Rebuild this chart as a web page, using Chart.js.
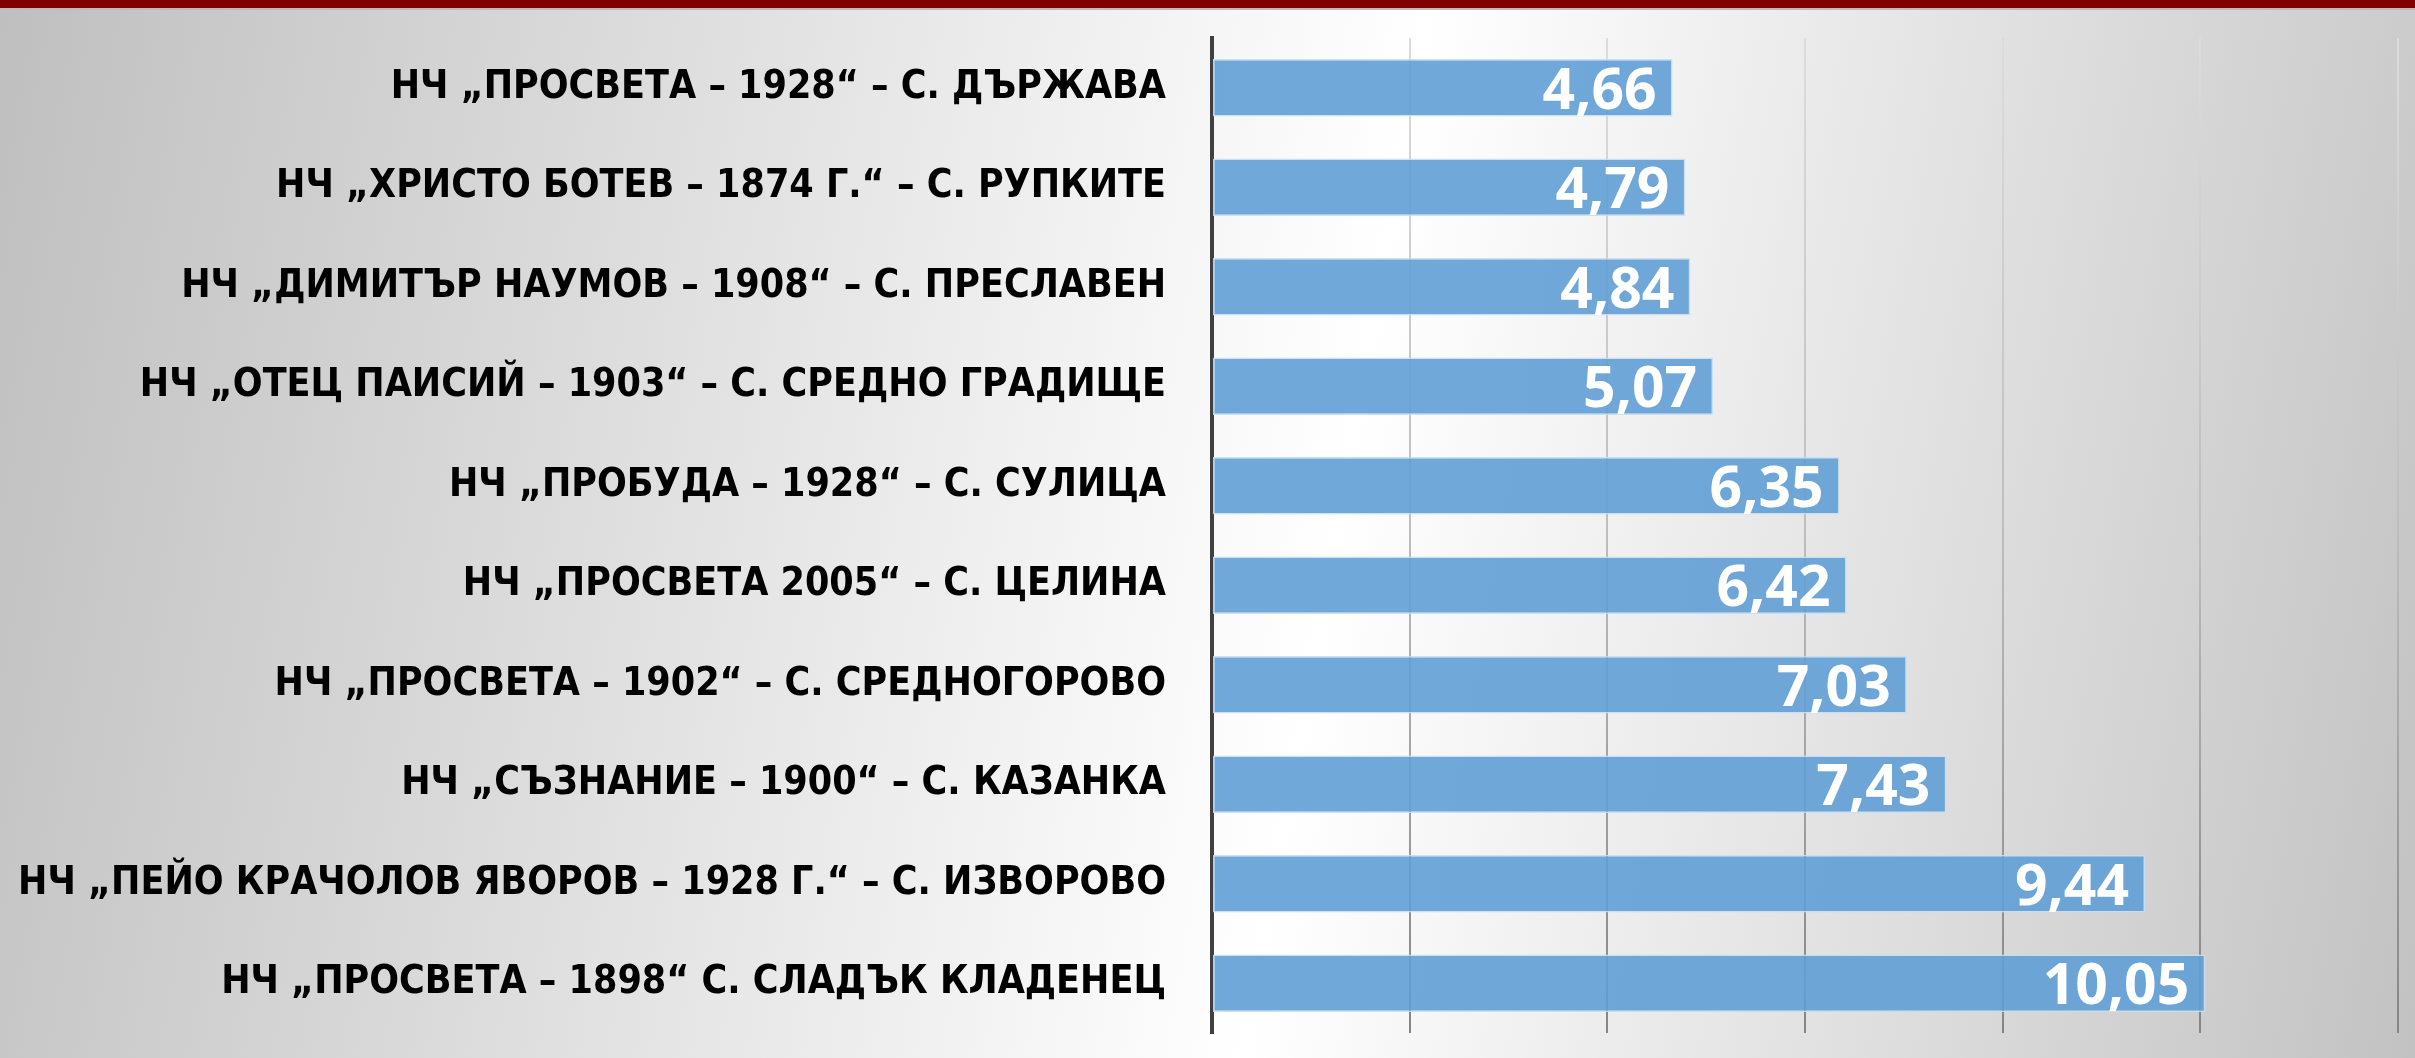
<!DOCTYPE html>
<html lang="bg">

<head>
    <meta charset="UTF-8">
    <title>Chart</title>
    <script src="https://cdn.jsdelivr.net/npm/chart.js@4.4.1/dist/chart.umd.min.js"></script>
    <style>
        html, body {
            margin: 0;
            padding: 0;
            width: 2415px;
            height: 1058px;
            overflow: hidden;
        }

        body {
            position: relative;
            background: linear-gradient(100deg, #bfbfbf 0%, #ffffff 55%, #c2c2c2 100%);
        }

        .topbar {
            position: absolute;
            left: 0;
            top: 0;
            width: 100%;
            height: 8px;
            background: #800000;
            border-bottom: 2px solid #bcbcbc;
        }

        .wrap {
            position: absolute;
            left: 0;
            top: 0;
            width: 2415px;
            height: 1058px;
        }
    </style>
</head>

<body>
    <div class="topbar"></div>
    <div class="wrap">
        <canvas id="chart"></canvas>
    </div>

    <script>
        const labels = [
            'НЧ „ПРОСВЕТА – 1928“ – С. ДЪРЖАВА',
            'НЧ „ХРИСТО БОТЕВ – 1874 Г.“ – С. РУПКИТЕ',
            'НЧ „ДИМИТЪР НАУМОВ – 1908“ – С. ПРЕСЛАВЕН',
            'НЧ „ОТЕЦ ПАИСИЙ – 1903“ – С. СРЕДНО ГРАДИЩЕ',
            'НЧ „ПРОБУДА – 1928“ – С. СУЛИЦА',
            'НЧ „ПРОСВЕТА 2005“ – С. ЦЕЛИНА',
            'НЧ „ПРОСВЕТА – 1902“ – С. СРЕДНОГОРОВО',
            'НЧ „СЪЗНАНИЕ – 1900“ – С. КАЗАНКА',
            'НЧ „ПЕЙО КРАЧОЛОВ ЯВОРОВ – 1928 Г.“ – С. ИЗВОРОВО',
            'НЧ „ПРОСВЕТА – 1898“ С. СЛАДЪК КЛАДЕНЕЦ'
        ]
        const values = [4.66, 4.79, 4.84, 5.07, 6.35, 6.42, 7.03, 7.43, 9.44, 10.05]
        const xMin = 0
        const xMax = 12
        const xStep = 2

        // numbers inside the end of each bar
        const valueLabels = {
            id: 'valueLabels',
            afterDatasetsDraw(chart) {
                const ctx = chart.ctx
                const meta = chart.getDatasetMeta(0)
                ctx.save()
                ctx.font = 'bold 57px "Open Sans"'
                ctx.fillStyle = '#ffffff'
                ctx.textAlign = 'right'
                ctx.textBaseline = 'alphabetic'
                meta.data.forEach((bar, i) => {
                    const txt = values[i].toFixed(2).replace('.', ',')
                    ctx.fillText(txt, bar.x - 16, bar.y + 21)
                })
                ctx.restore()
            }
        }

        function gridColor(context) {
            const chart = context.chart
            const area = chart.chartArea
            if (!area) return '#bfbfbf'
            const g = chart.ctx.createLinearGradient(0, area.top, 0, area.bottom)
            g.addColorStop(0, '#dcdcdc')
            g.addColorStop(0.5, '#bdbdbd')
            g.addColorStop(1, '#858585')
            return g
        }

        const ctx = document.getElementById('chart').getContext('2d')
        const myChart = new Chart(ctx, {
            type: 'bar',
            data: {
                labels: labels,
                datasets: [{
                    data: values,
                    backgroundColor: 'rgba(98, 158, 214, 0.9)',
                    borderColor: 'rgba(200, 222, 242, 0.9)',
                    borderWidth: 1.5,
                    borderSkipped: false,
                    barPercentage: 0.58,
                    categoryPercentage: 1
                }]
            },
            options: {
                indexAxis: 'y',
                responsive: true,
                maintainAspectRatio: false,
                animation: false,
                layout: {
                    padding: { left: 0, right: 17, top: 38, bottom: 25 }
                },
                plugins: {
                    legend: { display: false },
                    tooltip: { enabled: false }
                },
                scales: {
                    x: {
                        min: xMin,
                        max: xMax,
                        afterFit(scale) {
                            scale.height = 0
                            scale.paddingLeft = 0
                            scale.paddingRight = 0
                        },
                        ticks: { stepSize: xStep, display: false },
                        grid: {
                            color: gridColor,
                            lineWidth: 2,
                            drawTicks: false
                        },
                        border: { display: false }
                    },
                    y: {
                        afterFit(scale) {
                            scale.width = 1212
                            scale.paddingTop = 0
                            scale.paddingBottom = 0
                        },
                        ticks: {
                            color: '#000000',
                            padding: 46,
                            font: {
                                family: '"Liberation Sans Narrow", "DejaVu Sans Condensed", sans-serif',
                                weight: 'bold',
                                size: 39
                            }
                        },
                        grid: { display: false, drawTicks: false },
                        border: { display: true, color: '#404040', width: 4 }
                    }
                }
            },
            plugins: [valueLabels]
        });
    </script>

</body>

</html>
